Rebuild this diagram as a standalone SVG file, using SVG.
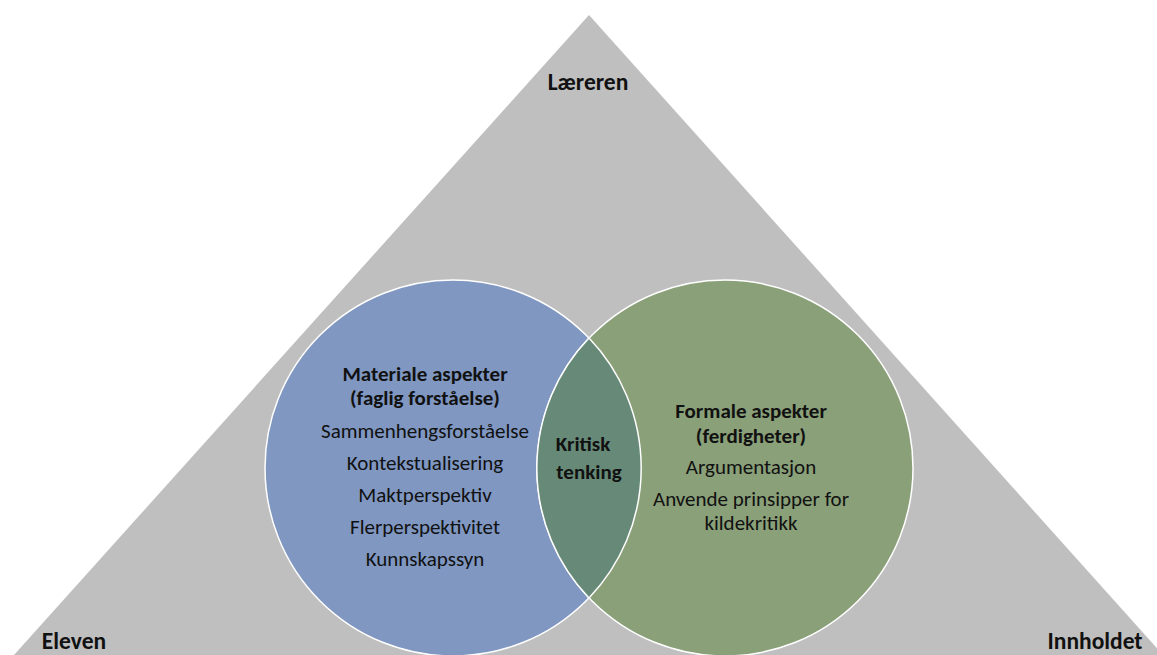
<svg xmlns="http://www.w3.org/2000/svg" width="1157" height="655" viewBox="0 0 1157 655">
  <style>
    .t { font-family: Carlito, Lato, "Liberation Sans", sans-serif; font-size: 21px; fill: #111; text-anchor: middle; }
    .b { font-weight: bold; }
    .corner { font-size: 23.5px; }
    .ring { stroke: #ffffff; stroke-width: 1.5; }
  </style>
  <rect width="1157" height="655" fill="#ffffff"/>
  <g id="triangle">
    <polygon points="589,15 14,655 1163,655" fill="#bfbfbf"/>
  </g>
  <g id="materiale">
    <circle class="ring" cx="453" cy="468" r="188" fill="#7f97c1"/>
  </g>
  <g id="formale">
    <circle class="ring" cx="725" cy="468" r="188" fill="#8aa079"/>
  </g>
  <g id="kritisk">
    <path class="ring" d="M589,338 A188,188 0 0 1 589,598 A188,188 0 0 1 589,338 Z" fill="#678a78"/>
  </g>
  <g id="labels">
    <text class="t b corner" x="588" y="90">Læreren</text>
    <text class="t b corner" x="74" y="649">Eleven</text>
    <text class="t b corner" x="1095" y="649">Innholdet</text>

    <text class="t b" x="425" y="381">Materiale aspekter</text>
    <text class="t b" x="425" y="405">(faglig forståelse)</text>
    <text class="t" x="425" y="438">Sammenhengsforståelse</text>
    <text class="t" x="425" y="470">Kontekstualisering</text>
    <text class="t" x="425" y="502">Maktperspektiv</text>
    <text class="t" x="425" y="534">Flerperspektivitet</text>
    <text class="t" x="425" y="566">Kunnskapssyn</text>

    <text class="t b" x="583" y="451" font-size="22">Kritisk</text>
    <text class="t b" x="589" y="479" font-size="22">tenking</text>

    <text class="t b" x="751" y="418">Formale aspekter</text>
    <text class="t b" x="751" y="443">(ferdigheter)</text>
    <text class="t" x="751" y="474">Argumentasjon</text>
    <text class="t" x="751" y="506">Anvende prinsipper for</text>
    <text class="t" x="751" y="530">kildekritikk</text>
  </g>
</svg>
